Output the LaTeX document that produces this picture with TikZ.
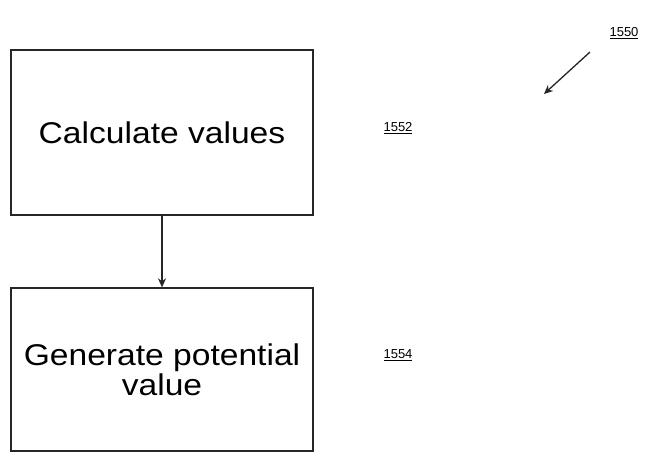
\documentclass[tikz,border=0pt]{standalone}
\usepackage{fontspec}
\setmainfont{Liberation Sans}
\newfontfamily\boxfont[FakeStretch=1.12]{Liberation Sans}
\usetikzlibrary{arrows.meta}
\begin{document}
\begin{tikzpicture}[x=1pt,y=1pt,
  stepbox/.style={draw=black!85, line width=1.3pt, minimum width=302pt, minimum height=165pt,
    inner sep=0pt, align=center, font=\boxfont\fontsize{30}{30}\selectfont},
  reflabel/.style={font=\fontsize{13}{13}\selectfont, inner sep=0pt},
  flow/.style={draw=black!85, line width=1.3pt, -{Stealth[length=9pt,width=8pt]}}]
\useasboundingbox (0,0) rectangle (666,456);
% process steps
\node[stepbox] (calc) at (162,323.5) {Calculate values};
\node[stepbox, minimum height=163pt] (gen) at (162,86.5) {Generate potential\\value};
\draw[flow] (calc.south) -- (gen.north);
% reference numerals
\node[reflabel] (r1552) at (398,328) {\underline{1552}};
\node[reflabel] (r1554) at (398,101) {\underline{1554}};
\node[reflabel] (r1550) at (624,423) {\underline{1550}};
\coordinate (tailA) at (590,404);
\coordinate (headA) at (544,362);
\draw[flow] (tailA) -- (headA);
\end{tikzpicture}
\end{document}
